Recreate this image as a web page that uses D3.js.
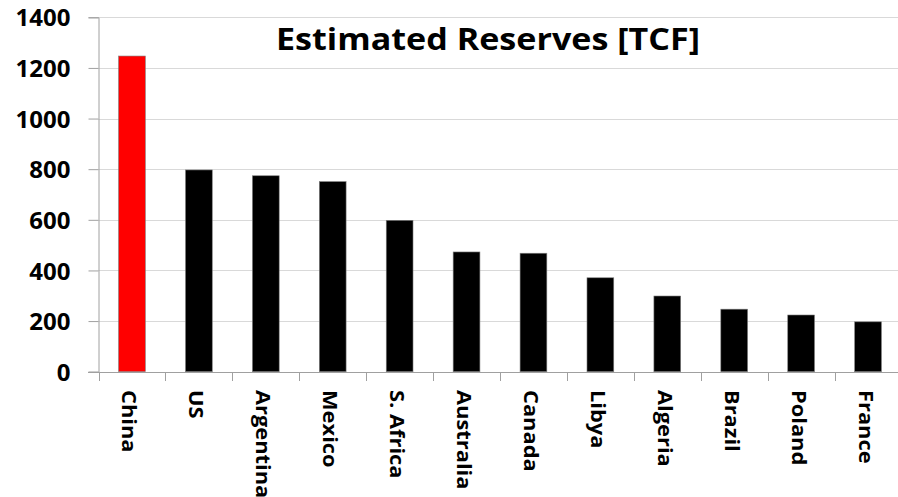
<!DOCTYPE html>
<html>
<head>
<meta charset="utf-8">
<script src="https://cdn.jsdelivr.net/npm/d3@7"></script>
<style>
  html, body { margin: 0; padding: 0; background: #fff; }
  svg { display: block; }
  text { font-family: "Open Sans", "DejaVu Sans", sans-serif; font-weight: bold; fill: #000; }
</style>
</head>
<body>
<script>
const categories = ["China", "US", "Argentina", "Mexico", "S. Africa", "Australia", "Canada", "Libya", "Algeria", "Brazil", "Poland", "France"];
const reserves = [1247, 797, 774, 751, 598, 473, 468, 371, 299, 247, 224, 197];
const barColors = ["#ff0000", "#000000", "#000000", "#000000", "#000000", "#000000", "#000000", "#000000", "#000000", "#000000", "#000000", "#000000"];
const yTicks = [0, 200, 400, 600, 800, 1000, 1200, 1400];
const title = "Estimated Reserves [TCF]";

const W = 898, H = 497;
const svg = d3.select("body").append("svg").attr("width", W).attr("height", H);

const x = d3.scaleBand().domain(categories).range([98.5, 901.5]).paddingInner(0.6).paddingOuter(0.3);
const y = d3.scaleLinear().domain([0, 1400]).range([371.7, 17.3]);

// gridlines
svg.append("g").selectAll("line").data(yTicks.filter(d => d > 0)).join("line")
  .attr("x1", 98.5).attr("x2", W).attr("y1", d => Math.round(y(d)) + 0.5).attr("y2", d => Math.round(y(d)) + 0.5)
  .attr("stroke", "#d9d9d9").attr("stroke-width", 1.2);

// bars
svg.append("g").selectAll("rect").data(categories).join("rect")
  .attr("x", d => x(d)).attr("width", x.bandwidth())
  .attr("y", (d, i) => y(reserves[i])).attr("height", (d, i) => y(0) - y(reserves[i]))
  .attr("fill", (d, i) => barColors[i])
  .attr("stroke", "#7f7f7f").attr("stroke-width", 0.6);

// y axis
const yAxis = svg.append("g").attr("transform", "translate(98.5,0)")
  .call(d3.axisLeft(y).tickValues(yTicks).tickSize(10).tickPadding(18).tickFormat(d3.format("d")));
yAxis.select(".domain").attr("stroke", "#a0a0a0");
yAxis.selectAll(".tick line").attr("stroke", "#a0a0a0");
yAxis.selectAll(".tick text").style("font-size", "24px").attr("fill", "#000").attr("dy", "0.36em");

// x axis line and ticks
const step = x.step();
const edges = d3.range(categories.length + 1).map(i => 98.5 + i * step);
svg.append("line").attr("x1", 88).attr("x2", W).attr("y1", 372.5).attr("y2", 372.5).attr("stroke", "#a0a0a0");
svg.append("g").selectAll("line").data(edges).join("line")
  .attr("x1", d => Math.round(d) + 0.5).attr("x2", d => Math.round(d) + 0.5)
  .attr("y1", 372.5).attr("y2", 381).attr("stroke", "#a0a0a0");

// category labels
svg.append("g").selectAll("text").data(categories).join("text")
  .attr("transform", d => `translate(${x(d) + x.bandwidth() / 2 - 9.5},390) rotate(90) scale(1.15,1)`)
  .style("font-size", "19px")
  .text(d => d);

// title
svg.append("text").attr("x", 488).attr("y", 49.5).attr("text-anchor", "middle")
  .style("font-size", "31px")
  .attr("textLength", 424).attr("lengthAdjust", "spacingAndGlyphs")
  .text(title);
</script>
</body>
</html>
